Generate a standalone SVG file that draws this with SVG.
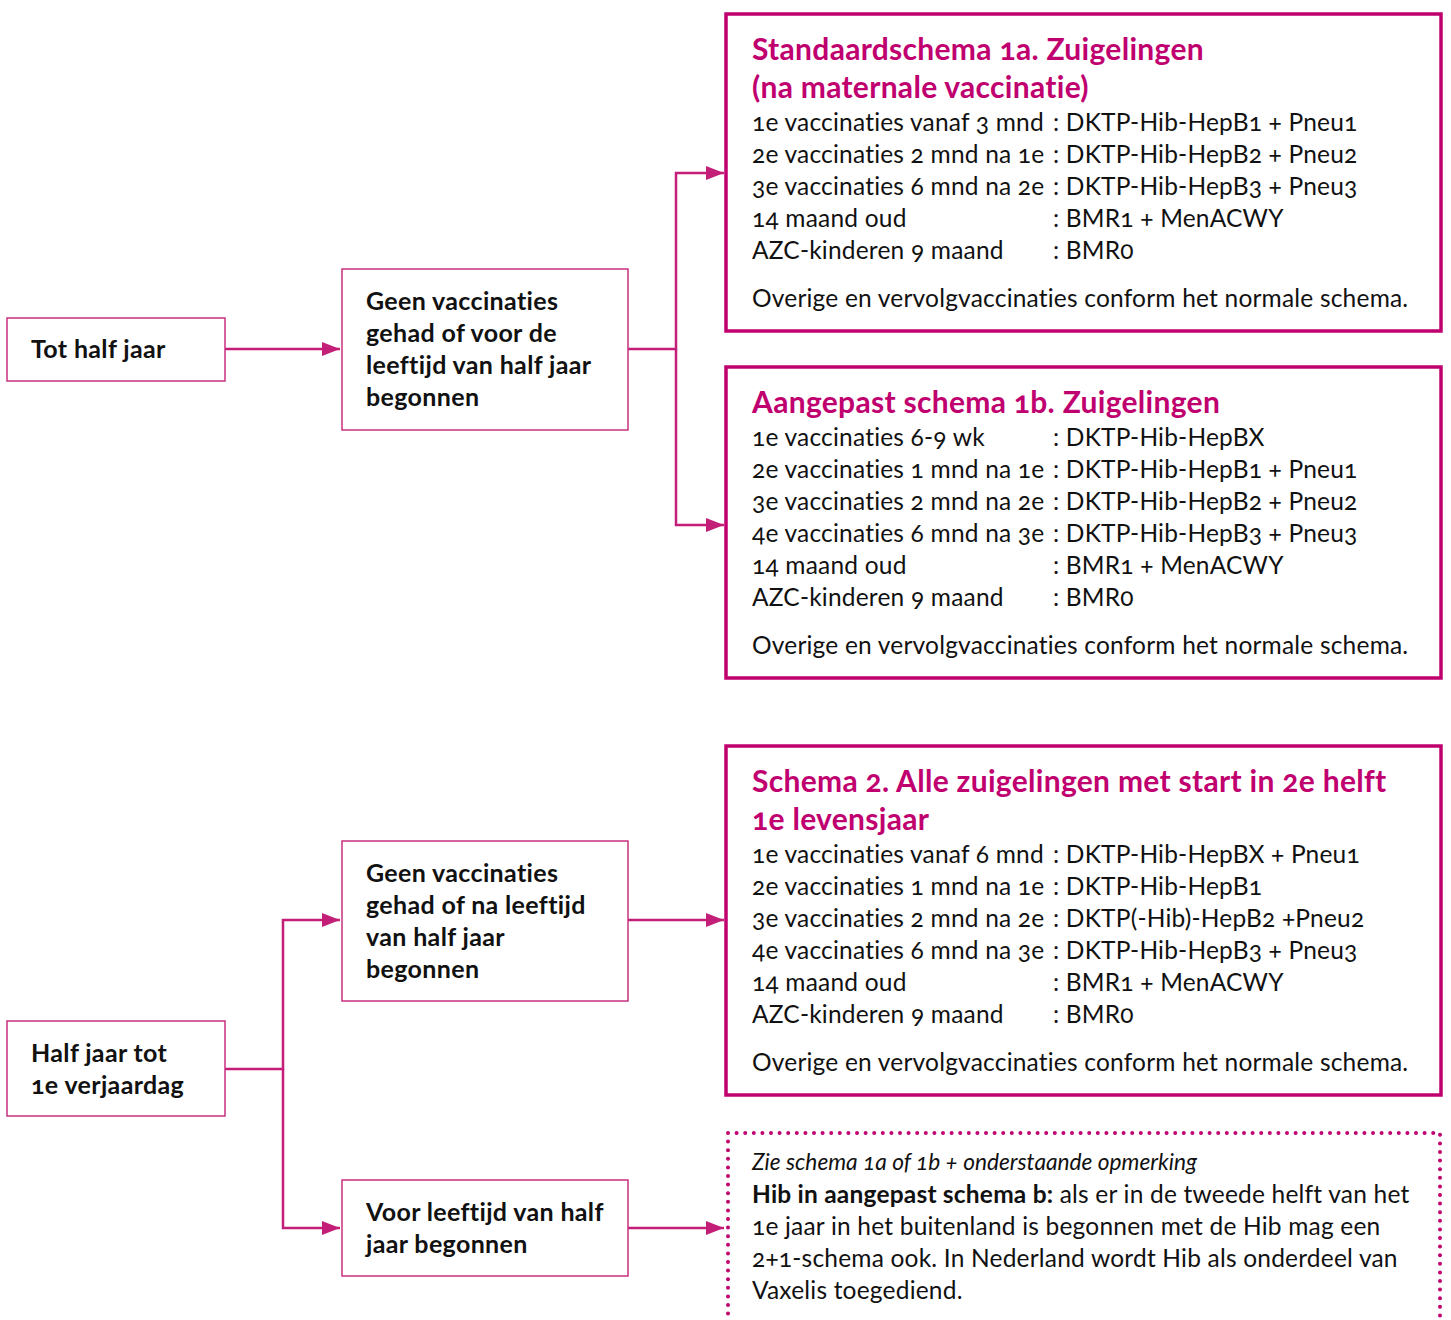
<svg xmlns="http://www.w3.org/2000/svg" width="1451" height="1320" viewBox="0 0 1451 1320">
<defs>
<marker id="ah2" viewBox="0 0 10 10" refX="10" refY="5" markerWidth="18" markerHeight="14" orient="auto" markerUnits="userSpaceOnUse" preserveAspectRatio="none">
<path d="M0,0 L10,5 L0,10 z" fill="#c41f78"/>
</marker>
<style>
text{font-family:"Lato","Noto Sans","Liberation Sans",sans-serif;fill:#111;font-variant-numeric:oldstyle-nums;}
.lbl{font-size:25px;font-weight:700;letter-spacing:0.35px;}
.body{font-size:24.5px;letter-spacing:0.2px;}
.ttl{font-size:30px;font-weight:700;fill:#c0006f;letter-spacing:0.3px;}
.thin{fill:#fff;stroke:#c9307f;stroke-width:1.5;}
.thick{fill:#fff;stroke:#c0006f;stroke-width:3.5;}
.con{fill:none;stroke:#c41f78;stroke-width:2.5;}
.ital{font-style:italic;font-size:23px;}
</style>
</defs>

<g id="connectors">
<path class="con" d="M225,349 H340" marker-end="url(#ah2)"/>
<path class="con" d="M628,349 H676 V173 H724" marker-end="url(#ah2)"/>
<path class="con" d="M676,349 V525 H724" marker-end="url(#ah2)"/>
<path class="con" d="M225,1069 H283 V920 H340" marker-end="url(#ah2)"/>
<path class="con" d="M283,1069 V1228 H340" marker-end="url(#ah2)"/>
<path class="con" d="M628,920 H724" marker-end="url(#ah2)"/>
<path class="con" d="M628,1228 H724" marker-end="url(#ah2)"/>
</g>

<g id="node-tot-half-jaar">
<rect class="thin" x="7" y="318" width="218" height="63"/>
<text class="lbl" x="31" y="358">Tot half jaar</text>
</g>

<g id="node-geen-voor">
<rect class="thin" x="342" y="269" width="286" height="161"/>
<text class="lbl" x="366" y="310">Geen vaccinaties</text>
<text class="lbl" x="366" y="342">gehad of voor de</text>
<text class="lbl" x="366" y="374">leeftijd van half jaar</text>
<text class="lbl" x="366" y="406">begonnen</text>
</g>

<g id="node-schema-1a">
<rect class="thick" x="726" y="14" width="715" height="317"/>
<text class="ttl" x="752" y="60">Standaardschema 1a. Zuigelingen</text>
<text class="ttl" x="752" y="98">(na maternale vaccinatie)</text>
<text class="body" x="752" y="131">1e vaccinaties vanaf 3 mnd</text>
<text class="body" x="1053" y="131">: DKTP-Hib-HepB1 + Pneu1</text>
<text class="body" x="752" y="163">2e vaccinaties 2 mnd na 1e</text>
<text class="body" x="1053" y="163">: DKTP-Hib-HepB2 + Pneu2</text>
<text class="body" x="752" y="195">3e vaccinaties 6 mnd na 2e</text>
<text class="body" x="1053" y="195">: DKTP-Hib-HepB3 + Pneu3</text>
<text class="body" x="752" y="227">14 maand oud</text>
<text class="body" x="1053" y="227">: BMR1 + MenACWY</text>
<text class="body" x="752" y="259">AZC-kinderen 9 maand</text>
<text class="body" x="1053" y="259">: BMR0</text>
<text class="body" x="752" y="307">Overige en vervolgvaccinaties conform het normale schema.</text>
</g>

<g id="node-schema-1b">
<rect class="thick" x="726" y="367" width="715" height="311"/>
<text class="ttl" x="752" y="413">Aangepast schema 1b. Zuigelingen</text>
<text class="body" x="752" y="446">1e vaccinaties 6-9 wk</text>
<text class="body" x="1053" y="446">: DKTP-Hib-HepBX</text>
<text class="body" x="752" y="478">2e vaccinaties 1 mnd na 1e</text>
<text class="body" x="1053" y="478">: DKTP-Hib-HepB1 + Pneu1</text>
<text class="body" x="752" y="510">3e vaccinaties 2 mnd na 2e</text>
<text class="body" x="1053" y="510">: DKTP-Hib-HepB2 + Pneu2</text>
<text class="body" x="752" y="542">4e vaccinaties 6 mnd na 3e</text>
<text class="body" x="1053" y="542">: DKTP-Hib-HepB3 + Pneu3</text>
<text class="body" x="752" y="574">14 maand oud</text>
<text class="body" x="1053" y="574">: BMR1 + MenACWY</text>
<text class="body" x="752" y="606">AZC-kinderen 9 maand</text>
<text class="body" x="1053" y="606">: BMR0</text>
<text class="body" x="752" y="654">Overige en vervolgvaccinaties conform het normale schema.</text>
</g>

<g id="node-half-jaar-tot">
<rect class="thin" x="7" y="1021" width="218" height="95"/>
<text class="lbl" x="31" y="1062">Half jaar tot</text>
<text class="lbl" x="31" y="1094">1e verjaardag</text>
</g>

<g id="node-geen-na">
<rect class="thin" x="342" y="841" width="286" height="160"/>
<text class="lbl" x="366" y="882">Geen vaccinaties</text>
<text class="lbl" x="366" y="914">gehad of na leeftijd</text>
<text class="lbl" x="366" y="946">van half jaar</text>
<text class="lbl" x="366" y="978">begonnen</text>
</g>

<g id="node-voor-leeftijd">
<rect class="thin" x="342" y="1180" width="286" height="96"/>
<text class="lbl" x="366" y="1221">Voor leeftijd van half</text>
<text class="lbl" x="366" y="1253">jaar begonnen</text>
</g>

<g id="node-schema-2">
<rect class="thick" x="726" y="746" width="715" height="349"/>
<text class="ttl" x="752" y="792">Schema 2. Alle zuigelingen met start in 2e helft</text>
<text class="ttl" x="752" y="830">1e levensjaar</text>
<text class="body" x="752" y="863">1e vaccinaties vanaf 6 mnd</text>
<text class="body" x="1053" y="863">: DKTP-Hib-HepBX + Pneu1</text>
<text class="body" x="752" y="895">2e vaccinaties 1 mnd na 1e</text>
<text class="body" x="1053" y="895">: DKTP-Hib-HepB1</text>
<text class="body" x="752" y="927">3e vaccinaties 2 mnd na 2e</text>
<text class="body" x="1053" y="927">: DKTP(-Hib)-HepB2 +Pneu2</text>
<text class="body" x="752" y="959">4e vaccinaties 6 mnd na 3e</text>
<text class="body" x="1053" y="959">: DKTP-Hib-HepB3 + Pneu3</text>
<text class="body" x="752" y="991">14 maand oud</text>
<text class="body" x="1053" y="991">: BMR1 + MenACWY</text>
<text class="body" x="752" y="1023">AZC-kinderen 9 maand</text>
<text class="body" x="1053" y="1023">: BMR0</text>
<text class="body" x="752" y="1071">Overige en vervolgvaccinaties conform het normale schema.</text>
</g>

<g id="node-opmerking">
<path d="M728,1133 H1440 V1330 M728,1133 V1330" fill="none" stroke="#c0006f" stroke-width="4" stroke-linecap="round" stroke-dasharray="0 8.6"/>
<text class="ital" x="752" y="1170" textLength="445" lengthAdjust="spacingAndGlyphs">Zie schema 1a of 1b + onderstaande opmerking</text>
<text class="body" x="752" y="1203"><tspan font-weight="700">Hib in aangepast schema b:</tspan> als er in de tweede helft van het</text>
<text class="body" x="752" y="1235">1e jaar in het buitenland is begonnen met de Hib mag een</text>
<text class="body" x="752" y="1267">2+1-schema ook. In Nederland wordt Hib als onderdeel van</text>
<text class="body" x="752" y="1299">Vaxelis toegediend.</text>
</g>
</svg>
